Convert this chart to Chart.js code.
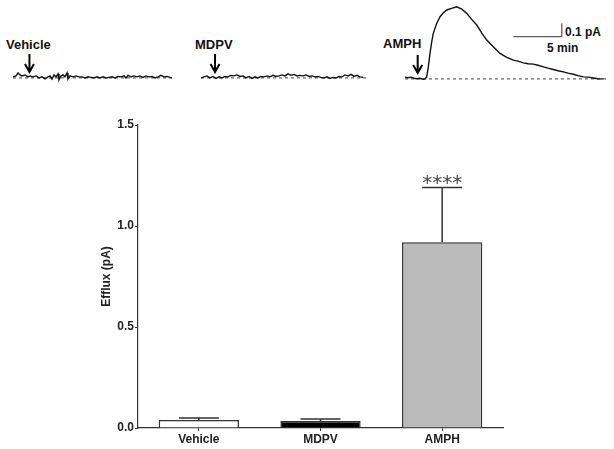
<!DOCTYPE html>
<html>
<head>
<meta charset="utf-8">
<script src="https://cdn.jsdelivr.net/npm/chart.js@4.4.1/dist/chart.umd.min.js"></script>
<style>
  body { margin: 0; background: #fff; }
  #page { position: relative; width: 614px; height: 449px; overflow: hidden; font-family: "Liberation Sans", Arial, sans-serif; }
  canvas { position: absolute; }
  .lbl { position: absolute; font-weight: bold; font-size: 13px; line-height: 14px; color: #111; white-space: nowrap; }
  .esc { position: absolute; font-weight: bold; font-size: 12px; line-height: 14px; color: #111; white-space: nowrap; }
</style>
</head>
<body>
<div id="page">
  <div class="lbl" style="left:6px;top:38px">Vehicle</div>
  <div class="lbl" style="left:195px;top:38px">MDPV</div>
  <div class="lbl" style="left:383px;top:37px">AMPH</div>
  <div class="esc" style="left:565px;top:25px">0.1 pA</div>
  <div class="esc" style="left:547px;top:41px">5 min</div>
  <canvas id="trazaVehicle" width="160" height="90" style="left:13px;top:0"></canvas>
  <canvas id="trazaMDPV" width="166" height="90" style="left:201px;top:0"></canvas>
  <canvas id="trazaAMPH" width="204" height="90" style="left:405px;top:1px"></canvas>
  <canvas id="chartEfflux" width="614" height="349" style="left:0;top:100px"></canvas>
</div>
<script>
// Datos del grafico de barras
const categorias = ['Vehicle', 'MDPV', 'AMPH'];
const effluxMedia = [0.04, 0.035, 0.92];
const effluxSem = [0.01, 0.01, 0.27];
const significancia = ['', '', '****'];
const yTicks = [0, 0.5, 1.0, 1.5];

// Trazos representativos: [tiempo (min), corriente (pA)]
const trazaVehicle = [
    [0, 0.008], [0.31, 0.015], [0.52, 0.037], [0.72, 0.022], [0.93, 0.015], [1.24, 0.022],
    [1.55, 0.008], [1.76, 0.015], [2.07, 0.008], [2.38, 0.015], [2.69, 0], [3.0, 0.008],
    [3.31, -0.008], [3.62, 0.008], [3.82, 0.015], [4.03, -0.008], [4.24, 0.022], [4.44, 0.008],
    [4.65, 0.03], [4.75, -0.015], [4.96, 0.015], [5.17, 0.022], [5.37, 0.008], [5.58, 0.037],
    [5.68, -0.008], [5.89, 0.015], [6.2, 0.008], [6.51, 0.015], [6.82, 0.008], [7.13, 0.008],
    [7.44, 0], [7.75, 0.008], [8.06, 0.004], [8.37, 0], [8.68, 0.008], [8.99, 0],
    [9.3, 0.008], [9.61, 0], [9.92, 0.004], [10.23, 0.008], [10.54, 0], [10.85, 0.011],
    [11.16, 0.008], [11.47, 0.015], [11.67, 0], [11.88, 0.019], [12.19, 0.008], [12.5, 0.015],
    [12.81, 0.008], [13.12, 0.015], [13.43, 0.004], [13.74, 0.015], [14.05, 0.008], [14.36, 0.011],
    [14.67, 0], [14.98, 0.008], [15.29, 0.019], [15.6, 0.008], [15.91, 0.011], [16.22, 0.004],
    [16.43, 0]
];
const trazaMDPV = [
    [0, 0], [0.31, 0.008], [0.62, 0.015], [0.93, 0], [1.24, 0.011], [1.55, -0.004],
    [1.86, 0.008], [2.17, 0], [2.48, 0.011], [2.79, 0.008], [3.1, 0.019], [3.41, 0.015],
    [3.72, 0.022], [4.03, 0.011], [4.34, 0.015], [4.65, 0], [4.96, 0.011], [5.27, -0.004],
    [5.58, 0.008], [5.89, 0], [6.2, 0.011], [6.51, 0.008], [6.82, 0.015], [7.13, 0.008],
    [7.44, 0.019], [7.75, 0.011], [8.06, 0.015], [8.37, 0.022], [8.68, 0.015], [8.99, 0.03],
    [9.3, 0.019], [9.61, 0.026], [9.92, 0.015], [10.23, 0.019], [10.54, 0.015], [10.85, 0.022],
    [11.16, 0.011], [11.47, 0.015], [11.78, 0.008], [12.09, 0.011], [12.4, 0.004], [12.71, 0],
    [13.02, 0.008], [13.33, -0.004], [13.64, 0.004], [13.95, 0], [14.26, 0.011], [14.57, 0.008],
    [14.88, 0.022], [15.19, 0.015], [15.5, 0.026], [15.81, 0.011], [16.12, 0.019], [16.43, 0.008],
    [16.74, 0.004]
];
const trazaAMPH = [
    [0, 0.013], [0.31, 0.009], [0.62, 0.013], [0.93, 0.005], [1.24, 0.001], [1.55, 0.005],
    [1.86, -0.002], [2.07, 0.001], [2.24, 0.015], [2.41, 0.09], [2.58, 0.19], [2.76, 0.276],
    [2.92, 0.339], [3.27, 0.413], [3.62, 0.463], [3.96, 0.493], [4.31, 0.513], [4.82, 0.525],
    [5.34, 0.537], [5.86, 0.52], [6.37, 0.488], [6.89, 0.443], [7.41, 0.401], [7.92, 0.343],
    [8.44, 0.289], [9.12, 0.239], [9.81, 0.19], [10.51, 0.16], [11.19, 0.14], [11.67, 0.132],
    [12.22, 0.119], [12.71, 0.113], [13.26, 0.11], [13.74, 0.102], [14.29, 0.09], [14.77, 0.08],
    [15.32, 0.07], [15.81, 0.061], [16.35, 0.052], [16.84, 0.043], [17.38, 0.035], [17.87, 0.024],
    [18.42, 0.015], [18.91, 0.013], [19.45, 0.007], [19.94, 0.001], [20.49, 0]
];
const tiempoDroga = [1.7, 1.45, 1.31]; // min, flecha de aplicacion

// Plugin para linea base punteada, flecha y barra de escala
const trazoPlugin = {
    id: 'trazo',
    beforeDatasetsDraw(chart, args, opts) {
        const { ctx, chartArea, scales } = chart;
        const y0 = scales.y.getPixelForValue(0);
        ctx.save();
        ctx.strokeStyle = '#444';
        ctx.lineWidth = 1;
        ctx.setLineDash([3, 3]);
        ctx.beginPath();
        ctx.moveTo(chartArea.left, y0);
        ctx.lineTo(chartArea.right, y0);
        ctx.stroke();
        ctx.restore();
    },
    afterDatasetsDraw(chart, args, opts) {
        const { ctx, scales } = chart;
        const x = scales.x.getPixelForValue(opts.droga);
        const tip = scales.y.getPixelForValue(0) - 6;
        ctx.save();
        ctx.strokeStyle = '#000';
        ctx.lineWidth = 2;
        ctx.beginPath();
        ctx.moveTo(x, tip - 18);
        ctx.lineTo(x, tip);
        ctx.moveTo(x - 4.5, tip - 8);
        ctx.lineTo(x, tip);
        ctx.lineTo(x + 4.5, tip - 8);
        ctx.stroke();
        if (opts.escala) {
            const e = opts.escala;
            const xr = scales.x.getPixelForValue(e.t);
            const xl = scales.x.getPixelForValue(e.t - e.dt);
            const yb = scales.y.getPixelForValue(e.i);
            const yt = scales.y.getPixelForValue(e.i + e.di);
            ctx.strokeStyle = '#333';
            ctx.lineWidth = 1;
            ctx.beginPath();
            ctx.moveTo(xl, yb);
            ctx.lineTo(xr, yb);
            ctx.lineTo(xr, yt);
            ctx.stroke();
        }
        ctx.restore();
    }
};

const crearTraza = (id, traza, droga, maxT, escala) => {
    new Chart(document.getElementById(id), {
        type: 'scatter',
        data: {
            datasets: [{
                data: traza.map(p => ({ x: p[0], y: p[1] })),
                showLine: true,
                borderColor: '#111',
                borderWidth: 1.4,
                pointRadius: 0,
                tension: 0
            }]
        },
        options: {
            responsive: false,
            animation: false,
            layout: { padding: 0 },
            scales: {
                x: { type: 'linear', display: false, min: 0, max: maxT },
                y: { display: false, min: -0.09, max: 0.58 }
            },
            plugins: {
                legend: { display: false },
                tooltip: { enabled: false },
                trazo: { droga, escala }
            }
        },
        plugins: [trazoPlugin]
    });
};

crearTraza('trazaVehicle', trazaVehicle, tiempoDroga[0], 16.53, null);
crearTraza('trazaMDPV', trazaMDPV, tiempoDroga[1], 17.15, null);
crearTraza('trazaAMPH', trazaAMPH, tiempoDroga[2], 21.07, { t: 16.2, dt: 5, i: 0.314, di: 0.1 });

// Barras de error y asteriscos
const errorPlugin = {
    id: 'errores',
    afterDatasetsDraw(chart) {
        const { ctx, scales } = chart;
        const meta = chart.getDatasetMeta(0);
        ctx.save();
        meta.data.forEach((bar, i) => {
            const yTop = scales.y.getPixelForValue(effluxMedia[i] + effluxSem[i]);
            ctx.strokeStyle = '#333';
            ctx.lineWidth = 1.5;
            ctx.beginPath();
            ctx.moveTo(bar.x, bar.y);
            ctx.lineTo(bar.x, yTop);
            ctx.moveTo(bar.x - 20, yTop);
            ctx.lineTo(bar.x + 20, yTop);
            ctx.stroke();
            if (significancia[i]) {
                ctx.fillStyle = '#444';
                ctx.font = '20px "DejaVu Sans"';
                ctx.textAlign = 'center';
                ctx.textBaseline = 'alphabetic';
                ctx.fillText(significancia[i], bar.x, yTop + 1);
            }
        });
        ctx.restore();
    }
};

const fuenteEje = { family: '"Liberation Sans", Arial, sans-serif', size: 12, weight: 'bold' };

new Chart(document.getElementById('chartEfflux'), {
    type: 'bar',
    data: {
        labels: categorias,
        datasets: [{
            data: effluxMedia,
            backgroundColor: ['#ffffff', '#000000', '#bababa'],
            borderColor: '#333',
            borderWidth: 1.5,
            barPercentage: 0.66,
            categoryPercentage: 1
        }]
    },
    options: {
        responsive: false,
        animation: false,
        layout: { padding: { left: 95, right: 111, top: 25, bottom: 0 } },
        scales: {
            x: {
                grid: { offset: false, drawOnChartArea: false, tickLength: 3, color: '#333' },
                border: { color: '#333', width: 1.2 },
                ticks: { font: fuenteEje, color: '#222', padding: 1 },
                afterFit: (s) => { s.height = 21; }
            },
            y: {
                min: 0,
                max: 1.5,
                afterBuildTicks: (s) => { s.ticks = yTicks.map(v => ({ value: v })); },
                grid: { drawOnChartArea: false, tickLength: 3, color: '#333' },
                border: { color: '#333', width: 1.2 },
                ticks: { font: fuenteEje, color: '#222', padding: 1, callback: v => v.toFixed(1) },
                title: { display: true, text: 'Efflux (pA)', font: fuenteEje, color: '#222' },
                afterFit: (s) => { s.width = 43; }
            }
        },
        plugins: {
            legend: { display: false },
            tooltip: { enabled: false }
        }
    },
    plugins: [errorPlugin]
});
</script>
</body>
</html>
